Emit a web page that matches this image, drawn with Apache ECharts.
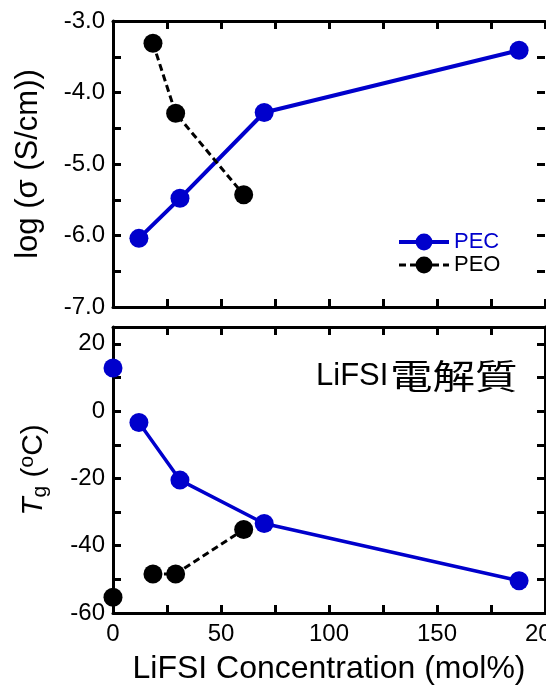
<!DOCTYPE html>
<html>
<head>
<meta charset="utf-8">
<script src="https://cdn.jsdelivr.net/npm/echarts@6/dist/echarts.min.js"></script>
<style>
  html, body { margin: 0; padding: 0; background: #fff; }
  #chart { width: 546px; height: 685px; }
</style>
</head>
<body>
<div id="chart"></div>
<script>
// LiFSI concentration (mol%) of the salt-containing samples
const pecConc = [12, 31, 70, 188];
const peoConc = [18.5, 29, 60.5];

// Ionic conductivity, log(sigma / S cm^-1)
const pecLogSigma = [-6.04, -5.48, -4.28, -3.41];
const peoLogSigma = [-3.31, -4.29, -5.43];

// Glass transition temperature (degC)
const pecTg = [-3.4, -20.5, -33.4, -50.4];
const peoTg = [-48.4, -48.4, -35.2];

// Salt-free polymers (0 mol%)
const neatConc = [0];
const pecNeatTg = [12.8];
const peoNeatTg = [-55.3];

// Tick positions and labels
const xTicks = [0, 25, 50, 75, 100, 125, 150, 175, 200];
const xLabels = [0, 50, 100, 150, 200];
const sigmaTicks = [-7, -6.5, -6, -5.5, -5, -4.5, -4, -3.5, -3];
const sigmaLabels = [-7, -6, -5, -4, -3];
const tgTicks = [-60, -50, -40, -30, -20, -10, 0, 10, 20];
const tgLabels = [-60, -40, -20, 0, 20];

const BLUE = '#0000cc';
const FONT = "'Liberation Sans', Arial, sans-serif";

const zip = (xs, ys) => xs.map((x, i) => [x, ys[i]]);

function frameAxis(extra, ticks, labels, showLine) {
  return Object.assign({
    type: 'value',
    axisLine: { show: showLine !== false, onZero: false, lineStyle: { color: '#000', width: 3 } },
    axisTick: { show: true, inside: true, length: 8, customValues: ticks,
                lineStyle: { color: '#000', width: 3 } },
    axisLabel: { show: !!labels, customValues: labels || undefined, color: '#000',
                 fontFamily: FONT, fontSize: 24, margin: 9 },
    splitLine: { show: false }
  }, extra);
}

const grids = [
  { left: 113, top: 21, width: 432, height: 286, containLabel: false, outerBoundsMode: 'none' },
  { left: 113, top: 327, width: 432, height: 286, containLabel: false, outerBoundsMode: 'none' }
];

const chart = echarts.init(document.getElementById('chart'), null, { renderer: 'canvas' });

const sigmaAxis = frameAxis({ gridIndex: 0, position: 'left', min: -7, max: -3 }, sigmaTicks, sigmaLabels);
sigmaAxis.axisLabel.formatter = v => v.toFixed(1);
sigmaAxis.axisLabel.margin = 8;
Object.assign(sigmaAxis, {
  name: 'log (\u03c3 (S/cm))',
  nameLocation: 'middle',
  nameRotate: 90,
  nameGap: 69,
  nameTextStyle: { color: '#000', fontFamily: FONT, fontSize: 31 }
});

const tgAxis = frameAxis({ gridIndex: 1, position: 'left', min: -60, max: 25 }, tgTicks, tgLabels);
tgAxis.axisLabel.margin = 8;
Object.assign(tgAxis, {
  name: '{t|T}{s|g}{n| (}{o|o}{n|C)}',
  nameLocation: 'middle',
  nameRotate: 90,
  nameGap: 62,
  nameTextStyle: {
    color: '#000', fontFamily: FONT, fontSize: 30,
    rich: {
      t: { fontFamily: FONT, fontSize: 30, fontStyle: 'italic', color: '#000' },
      s: { fontFamily: FONT, fontSize: 21, color: '#000', padding: [14, 0, 0, 0] },
      n: { fontFamily: FONT, fontSize: 30, color: '#000' },
      o: { fontFamily: FONT, fontSize: 21, color: '#000', padding: [0, 0, 12, 0] }
    }
  }
});

const concAxis = frameAxis({ gridIndex: 1, position: 'bottom', min: 0, max: 200 }, xTicks, xLabels);
Object.assign(concAxis, {
  name: 'LiFSI Concentration (mol%)',
  nameLocation: 'middle',
  nameGap: 40,
  nameTextStyle: { color: '#000', fontFamily: FONT, fontSize: 32 }
});

chart.setOption({
  animation: false,
  backgroundColor: '#fff',
  grid: grids,
  xAxis: [
    frameAxis({ gridIndex: 0, position: 'bottom', min: 0, max: 200 }, xTicks, null),
    frameAxis({ gridIndex: 0, position: 'top', min: 0, max: 200 }, xTicks, null),
    concAxis,
    frameAxis({ gridIndex: 1, position: 'top', min: 0, max: 200 }, xTicks, null)
  ],
  yAxis: [
    sigmaAxis,
    frameAxis({ gridIndex: 0, position: 'right', min: -7, max: -3 }, sigmaTicks, null, false),
    tgAxis,
    frameAxis({ gridIndex: 1, position: 'right', min: -60, max: 25 }, tgTicks, null)
  ],
  legend: {
    data: [
      { name: 'PEC', textStyle: { color: BLUE } },
      { name: 'PEO', textStyle: { color: '#000' } }
    ],
    orient: 'vertical',
    left: 397,
    top: 231,
    itemWidth: 50,
    itemHeight: 21,
    itemGap: 1,
    padding: 0,
    lineStyle: { width: 'inherit' },
    textStyle: { fontFamily: FONT, fontSize: 22 }
  },
  // Panel label: Latin part and the wide-set kanji part
  graphic: [
    {
      type: 'text',
      x: 316,
      y: 376,
      style: {
        text: 'LiFSI',
        fill: '#000',
        font: "31px 'Liberation Sans', Arial, sans-serif",
        align: 'left',
        verticalAlign: 'middle'
      }
    },
    {
      type: 'text',
      x: 390,
      y: 376,
      scaleX: 1.25,
      style: {
        text: '電解質',
        fill: '#000',
        font: "34px 'Noto Sans CJK JP', sans-serif",
        align: 'left',
        verticalAlign: 'middle'
      }
    }
  ],
  series: [
    {
      name: 'PEC', type: 'line', xAxisIndex: 0, yAxisIndex: 0,
      data: zip(pecConc, pecLogSigma),
      color: BLUE, symbol: 'circle', symbolSize: 19,
      lineStyle: { color: BLUE, width: 4 },
      itemStyle: { color: BLUE }
    },
    {
      name: 'PEO', type: 'line', xAxisIndex: 0, yAxisIndex: 0,
      data: zip(peoConc, peoLogSigma),
      color: '#000', symbol: 'circle', symbolSize: 19,
      lineStyle: { color: '#000', width: 3, type: [7, 4] },
      itemStyle: { color: '#000' }
    },
    {
      name: 'PEC Tg', type: 'line', xAxisIndex: 2, yAxisIndex: 2,
      data: zip(pecConc, pecTg),
      symbol: 'circle', symbolSize: 19,
      lineStyle: { color: BLUE, width: 3.5 },
      itemStyle: { color: BLUE }
    },
    {
      name: 'PEO Tg', type: 'line', xAxisIndex: 2, yAxisIndex: 2,
      data: zip(peoConc, peoTg),
      symbol: 'circle', symbolSize: 19,
      lineStyle: { color: '#000', width: 3, type: [7, 4] },
      itemStyle: { color: '#000' }
    },
    {
      name: 'PEC neat', type: 'scatter', xAxisIndex: 2, yAxisIndex: 2,
      data: zip(neatConc, pecNeatTg),
      symbol: 'circle', symbolSize: 19, clip: false,
      itemStyle: { color: BLUE, opacity: 1 }, z: 5
    },
    {
      name: 'PEO neat', type: 'scatter', xAxisIndex: 2, yAxisIndex: 2,
      data: zip(neatConc, peoNeatTg),
      symbol: 'circle', symbolSize: 19, clip: false,
      itemStyle: { color: '#000', opacity: 1 }, z: 5
    }
  ]
});
</script>
</body>
</html>
